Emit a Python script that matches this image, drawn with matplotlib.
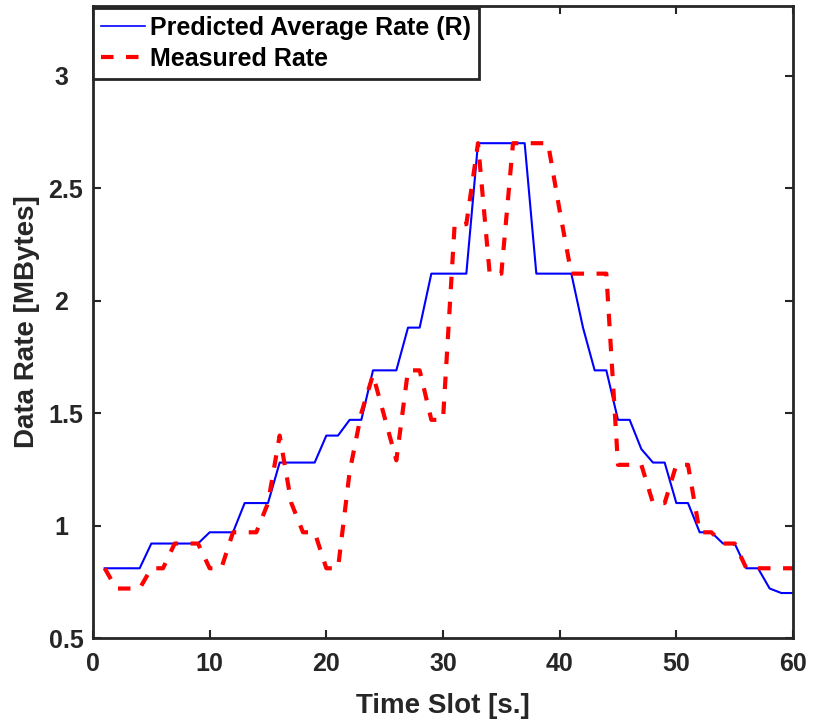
import matplotlib
matplotlib.use("Agg")
import matplotlib.pyplot as plt

time_slots = list(range(1, 61))

predicted_rate = [
    0.81, 0.81, 0.81, 0.81, 0.92, 0.92, 0.92, 0.92, 0.92, 0.97,
    0.97, 0.97, 1.10, 1.10, 1.10, 1.28, 1.28, 1.28, 1.28, 1.40,
    1.40, 1.47, 1.47, 1.69, 1.69, 1.69, 1.88, 1.88, 2.12, 2.12,
    2.12, 2.12, 2.70, 2.70, 2.70, 2.70, 2.70, 2.12, 2.12, 2.12,
    2.12, 1.88, 1.69, 1.69, 1.47, 1.47, 1.34, 1.28, 1.28, 1.10,
    1.10, 0.97, 0.97, 0.92, 0.92, 0.81, 0.81, 0.72, 0.70, 0.70,
]

measured_rate = [
    0.81, 0.72, 0.72, 0.72, 0.81, 0.81, 0.92, 0.92, 0.92, 0.81,
    0.81, 0.97, 0.97, 0.97, 1.10, 1.40, 1.10, 0.97, 0.97, 0.81,
    0.81, 1.24, 1.50, 1.67, 1.48, 1.29, 1.69, 1.69, 1.47, 1.47,
    2.34, 2.34, 2.70, 2.12, 2.12, 2.70, 2.70, 2.70, 2.70, 2.40,
    2.12, 2.12, 2.12, 2.12, 1.27, 1.27, 1.27, 1.10, 1.10, 1.27,
    1.27, 0.97, 0.97, 0.92, 0.92, 0.81, 0.81, 0.81, 0.81, 0.81,
]

x_ticks = [0, 10, 20, 30, 40, 50, 60]
y_ticks = [0.5, 1, 1.5, 2, 2.5, 3]
# integer labels sit left of the decimal ones in the original
y_tick_labels = ["0.5", "1  ", "1.5", "2  ", "2.5", "3  "]

plt.rcParams["font.family"] = ["Liberation Sans", "DejaVu Sans"]
plt.rcParams["font.weight"] = "bold"

axis_color = "#262626"

figure = plt.figure(figsize=(8.14, 7.23), dpi=100)
axis = figure.add_axes([93 / 814, 1 - 638 / 723, 700 / 814, 632 / 723])

axis.plot(time_slots, predicted_rate, color="#0000ff", linewidth=1.5,
          label="Predicted Average Rate (R)")
axis.plot(time_slots, measured_rate, color="#ff0000", linewidth=3,
          linestyle=(0, (3, 3)), label="Measured Rate")

axis.set_xlim(0, 60)
axis.set_ylim(0.5, 3.31)
axis.set_xticks(x_ticks)
axis.set_yticks(y_ticks)
axis.set_yticklabels(y_tick_labels)
axis.tick_params(direction="in", length=6, width=1.5, labelsize=18,
                 colors=axis_color, top=True, right=True)
axis.tick_params(axis="x", pad=10)
axis.tick_params(axis="y", pad=7)
for label in axis.get_xticklabels() + axis.get_yticklabels():
    label.set_fontweight("bold")
for spine in axis.spines.values():
    spine.set_linewidth(2)
    spine.set_color(axis_color)

axis.set_xlabel("Time Slot [s.]", fontsize=20, fontweight="bold",
                color=axis_color, labelpad=12)
axis.set_ylabel("Data Rate [MBytes]", fontsize=20, fontweight="bold",
                color=axis_color, labelpad=6)

legend = axis.legend(loc="upper left", bbox_to_anchor=(0.0, 0.997),
                     borderaxespad=0, fancybox=False, framealpha=1,
                     edgecolor=axis_color, handlelength=1.75,
                     handletextpad=0.2, labelspacing=0.28, borderpad=0.32,
                     prop={"size": 18, "weight": "bold"})
legend.get_frame().set_linewidth(2)
legend.get_lines()[0].set_linewidth(1.2)

figure.savefig("out.png", dpi=100)
plt.close(figure)
